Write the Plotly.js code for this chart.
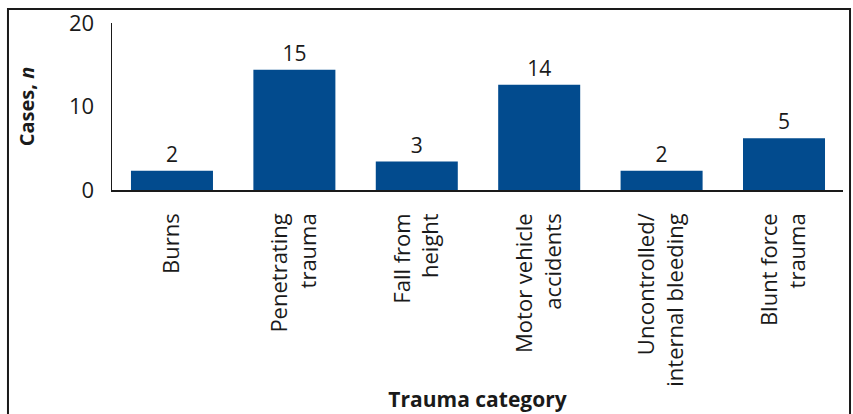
<!DOCTYPE html>
<html>
<head>
<meta charset="utf-8">
<script src="https://cdn.plot.ly/plotly-3.0.1.min.js"></script>
<style>html,body{margin:0;padding:0;background:#fff;}#chart{width:853px;height:414px;}</style>
</head>
<body>
<div id="chart"></div>
<script>
const categories = ["Burns", "Penetrating<br>trauma", "Fall from<br>height", "Motor vehicle<br>accidents", "Uncontrolled/<br>internal bleeding", "Blunt force<br>trauma"];
const labelValues = [2, 15, 3, 14, 2, 5];
const barHeights = [2.3, 14.4, 3.4, 12.6, 2.3, 6.2];
const yTicks = [0, 10, 20];

const FONT = "'Open Sans', 'Noto Sans', sans-serif";
const trace = {
  type: "bar",
  x: categories,
  y: barHeights,
  text: labelValues.map(String),
  textposition: "outside",
  textfont: {family: FONT, size: 21, color: "#1a1a1a"},
  cliponaxis: false,
  marker: {color: "#024b8e"},
  hoverinfo: "none"
};

const layout = {
  width: 853, height: 414,
  margin: {l: 112, r: 10, t: 23, b: 224},
  paper_bgcolor: "#fff", plot_bgcolor: "#fff",
  font: {family: FONT, size: 21, color: "#1a1a1a"},
  showlegend: false,
  bargap: 0.33,
  xaxis: {
    type: "category",
    range: [-0.49, 5.482],
    tickangle: -90,
    showline: true, linecolor: "#1a1a1a", linewidth: 1.5,
    ticks: "", showgrid: false, zeroline: false,
    tickfont: {family: FONT, size: 22, color: "#1a1a1a"},
    ticklabelstandoff: 13,
    automargin: false,
    title: {text: "<b>Trauma category</b>", font: {family: FONT, size: 21, color: "#1a1a1a"}, standoff: 6}
  },
  yaxis: {
    range: [0, 20],
    tickvals: yTicks,
    showline: true, linecolor: "#1a1a1a", linewidth: 1.5,
    ticks: "outside", ticklen: 12, tickcolor: "rgba(0,0,0,0)",
    showgrid: false, zeroline: false,
    tickfont: {family: FONT, size: 22, color: "#1a1a1a"},
    automargin: false,
    title: {text: "<b>Cases, <i>n</i></b>", font: {family: FONT, size: 20, color: "#1a1a1a"}, standoff: 29}
  },
  shapes: [{
    type: "rect", xref: "paper", yref: "paper",
    x0: -0.1423, x1: 1.0096, y0: -1.4, y1: 1.0838,
    line: {color: "#1a1a1a", width: 2}, fillcolor: "rgba(0,0,0,0)"
  }]
};

Plotly.newPlot("chart", [trace], layout, {displayModeBar: false, staticPlot: true});
</script>
</body>
</html>
